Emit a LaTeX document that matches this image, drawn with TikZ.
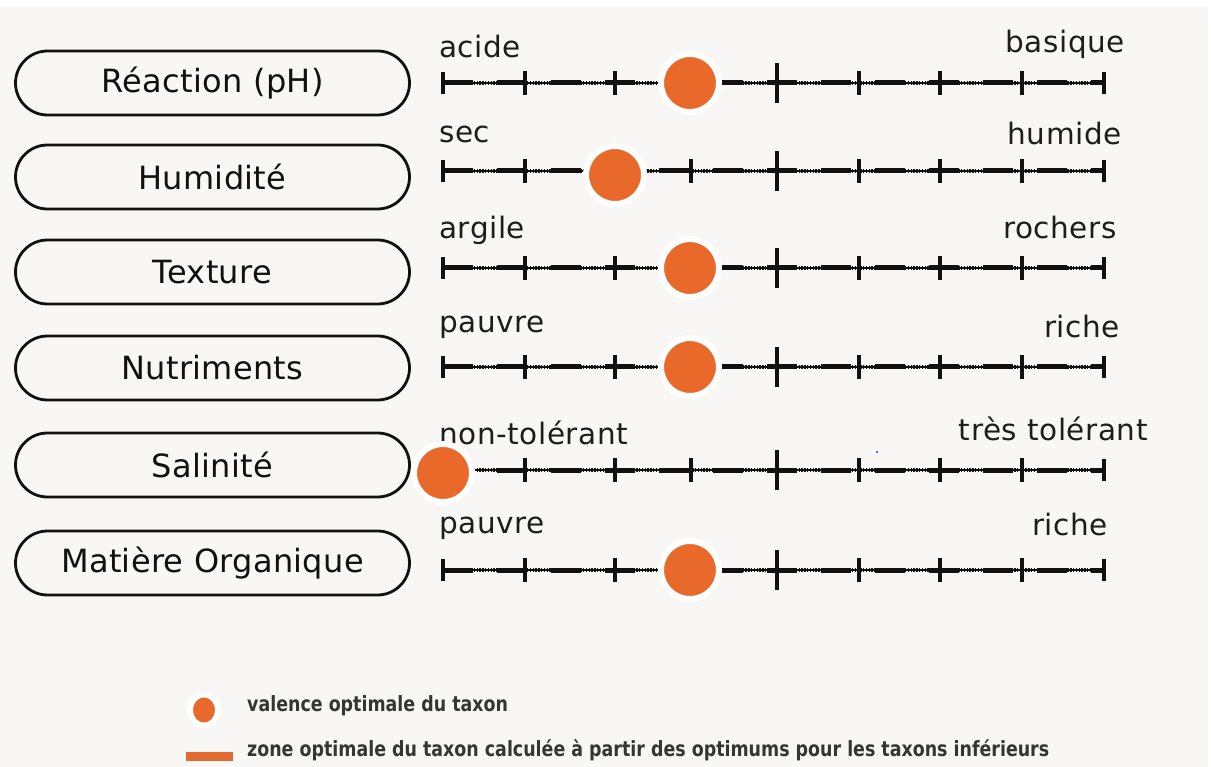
\documentclass[tikz,border=0pt]{standalone}
\usepackage{fontspec}
\usepackage{graphicx}
\usetikzlibrary{shapes.geometric}
\setmainfont{DejaVu Sans}
\newfontfamily\boxfont[LetterSpace=1]{DejaVu Sans}
\newfontfamily\labfont[LetterSpace=2]{DejaVu Sans}
\definecolor{bg}{HTML}{F8F7F5}
\definecolor{dotorange}{HTML}{E8692A}
\definecolor{barorange}{HTML}{E06A30}
\definecolor{ink}{HTML}{111111}
\begin{document}
\begin{tikzpicture}[x=1pt,y=-1pt,
  factor/.style={draw=ink,line width=2.8pt,rounded corners=32pt,minimum width=394pt,minimum height=64pt,inner sep=0pt,font=\boxfont\fontsize{32}{35}\selectfont,text=ink},
  endlabel/.style={inner sep=0pt,font=\labfont\fontsize{29.5}{32}\selectfont,text=ink!95},
  valence/.style={circle,fill=dotorange,draw=white,line width=6pt,minimum size=58pt,inner sep=0pt},
  basethin/.style={draw=ink,line width=2pt},
  hatch/.style={draw=ink,line width=4.5pt,dash pattern=on 1.4pt off 1.4pt},
  thickseg/.style={draw=ink,line width=5pt,dash pattern=on 30pt off 24pt,dash phase=0pt},
  tick/.style={draw=ink,line width=3.5pt},
  bigtick/.style={draw=ink,line width=4.5pt},
  legtext/.style={anchor=west,inner sep=0pt,font=\fontsize{21}{23}\selectfont\bfseries,text=ink!85}
]
\useasboundingbox (0,0) rectangle (1211,767);
\fill[white] (0,0) rectangle (1211,767);
\fill[bg] (0,7) rectangle (1208,767);

% rows: box centre y / line y / dot x / dot y / left label / left mid y / right label / right mid y / right x / box text
\foreach \i/\by/\ly/\dx/\dy/\ll/\lly/\rl/\rly/\rx/\bt in {
  1/83/83/690/83/acide/55/basique/50/1125/{Réaction (pH)},
  2/177/171/615/175/sec/140/humide/142/1122/{Humidité},
  3/272/268/690/268/argile/236/rochers/236/1117/{Texture},
  4/368/367/690/367/pauvre/330/riche/335/1120/{Nutriments},
  5/465/470/443/473/non-tolérant/442/{très~tolérant}/438/1148/{Salinité},
  6/563/570/690/570/pauvre/531/riche/533/1108/{Matière Organique}} {
  \node[factor] (box\i) at (212.5,\by) {\bt};
  \coordinate (s\i) at (443,\ly);
  \coordinate (e\i) at (1104,\ly);
  \path[basethin] (s\i) -- (e\i);
  \path[hatch] (s\i) -- (e\i);
  \path[thickseg] (s\i) -- (e\i);
  \foreach \tx in {525,615,691,859,940,1022} {
    \path[tick] (\tx,\ly-12) -- (\tx,\ly+12);
  }
  \path[bigtick] (443,\ly-11) -- (443,\ly+11);
  \path[bigtick] (1104,\ly-11) -- (1104,\ly+11);
  \path[bigtick] (777,\ly-20) -- (777,\ly+20);
  \node[endlabel,anchor=mid west] (left\i) at (439,\lly) {\ll};
  \node[endlabel,anchor=mid east] (right\i) at (\rx,\rly) {\rl};
  \node[valence] (dot\i) at (\dx,\dy) {};
}

% stray blue pixel
\fill[blue!80] (877,452) circle (1.2pt);

% legend
\node[ellipse,draw=white,fill=dotorange,line width=6pt,minimum width=28pt,minimum height=31pt,inner sep=0pt] (legdot) at (204,710) {};
\fill[barorange] (186,752) rectangle (233,761);
\coordinate (legbar) at (209.5,756.5);
\node[legtext] (leg1) at (247,706) {\scalebox{0.83}[1]{valence optimale du taxon}};
\node[legtext] (leg2) at (247,750) {\scalebox{0.83}[1]{zone optimale du taxon calculée à partir des optimums pour les taxons inférieurs}};
\end{tikzpicture}
\end{document}
